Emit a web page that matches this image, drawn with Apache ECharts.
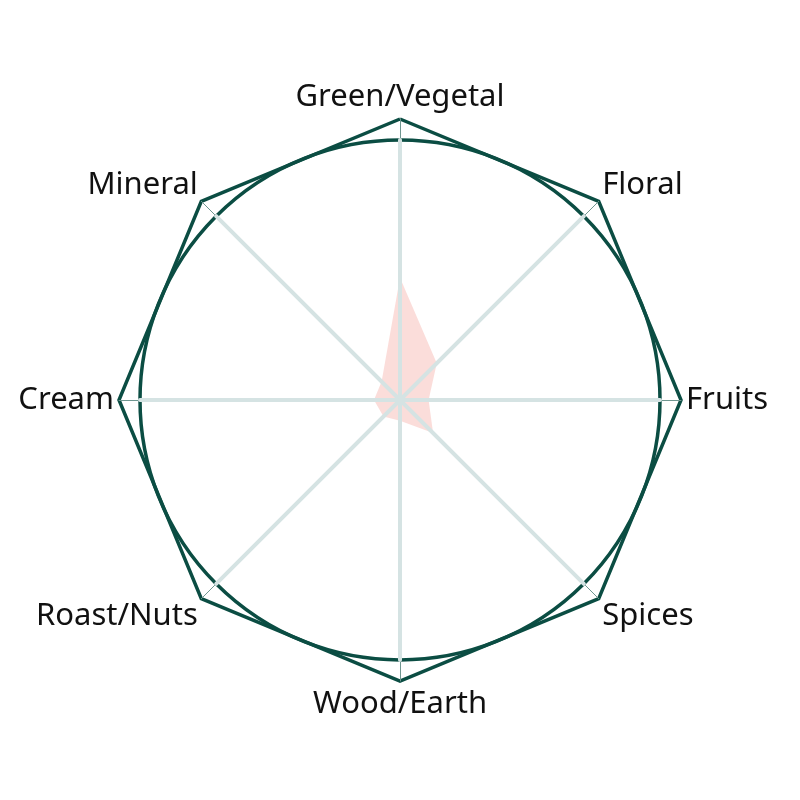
<!DOCTYPE html>
<html>
<head>
<meta charset="utf-8">
<script src="https://cdn.jsdelivr.net/npm/echarts@6/dist/echarts.min.js"></script>
<style>
  html, body { margin: 0; padding: 0; background: #fff; }
  #main { width: 800px; height: 800px; }
</style>
</head>
<body>
<div id="main"></div>
<script>
var myChart = echarts.init(document.getElementById('main'));

// axis names, counterclockwise from the top
var axisNames = ['Green/Vegetal', 'Mineral', 'Cream', 'Roast/Nuts', 'Wood/Earth', 'Spices', 'Fruits', 'Floral'];

// profile values (0-100)
var profile = [47, 10, 10, 9, 8, 18, 11, 20];

var maxValue = 100;

var indicators = axisNames.map(function (n) {
  return { name: n, max: maxValue };
});

// which way each label is nudged
var nameStyle = {
  'Green/Vegetal': 'top',
  'Mineral': 'up',
  'Floral': 'up',
  'Roast/Nuts': 'down',
  'Spices': 'down',
  'Wood/Earth': 'bottom'
};

var darkGreen = '#0b4d43';

var option = {
  animation: false,
  radar: [
    { // outer octagon with labels
      center: ['50%', '50%'],
      radius: 281,
      shape: 'polygon',
      splitNumber: 1,
      indicator: indicators,
      nameGap: 5,
      axisName: {
        color: '#111',
        fontSize: 31,
        fontFamily: 'Noto Sans',
        formatter: function (name) {
          var s = nameStyle[name];
          return s ? '{' + s + '|' + name + '}' : name;
        },
        rich: {
          top: { fontSize: 31, fontFamily: 'Noto Sans', color: '#111', padding: [0, 0, 1, 0] },
          up: { fontSize: 31, fontFamily: 'Noto Sans', color: '#111', padding: [0, 0, 26, 0] },
          down: { fontSize: 31, fontFamily: 'Noto Sans', color: '#111', padding: [28, 0, 0, 0] },
          bottom: { fontSize: 31, fontFamily: 'Noto Sans', color: '#111', padding: [3, 0, 0, 0] }
        }
      },
      axisLine: { lineStyle: { color: '#6f9690', width: 1 } },
      splitLine: { lineStyle: { color: darkGreen, width: 3.5 } },
      splitArea: { show: false },
      z: 3
    },
    { // inner circle
      center: ['50%', '50%'],
      radius: 260,
      shape: 'circle',
      splitNumber: 1,
      indicator: indicators,
      axisName: { show: false },
      axisLine: { lineStyle: { color: '#d5e3e3', width: 4 } },
      splitLine: { lineStyle: { color: darkGreen, width: 3.5 } },
      splitArea: { show: false },
      z: 4
    }
  ],
  series: [{
    type: 'radar',
    radarIndex: 1,
    z: 1,
    symbol: 'none',
    lineStyle: { width: 0 },
    areaStyle: { color: 'rgba(244,160,150,0.5)' },
    data: [{ value: profile }]
  }]
};

myChart.setOption(option);
</script>
</body>
</html>
